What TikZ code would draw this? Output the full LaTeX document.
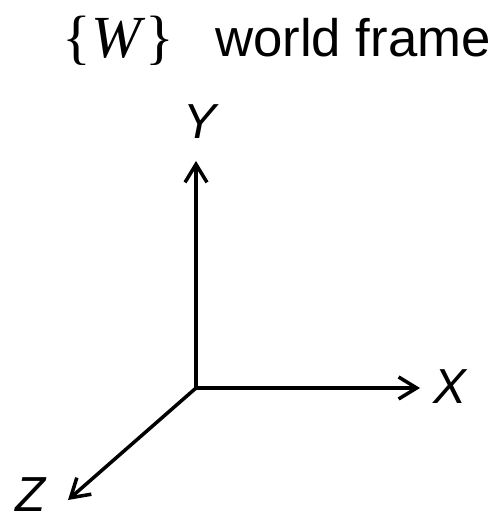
\documentclass[tikz,border=0pt]{standalone}
\usepackage{fontspec}
\setmainfont{Liberation Sans}
\newfontfamily\serifW{Liberation Serif}
\usepackage{tikz}
\usetikzlibrary{arrows.meta, positioning}

\begin{document}
\begin{tikzpicture}[>={Straight Barb[length=0.36cm, width=0.44cm]},
    axis/.style={line width=2pt, ->},
    axislabel/.style={inner sep=0pt, font=\fontsize{28}{30}\selectfont\itshape}]

    % khung hình
    \useasboundingbox (0,0) rectangle (10,10.4);

    % =================================================================
    % TIÊU ĐỀ
    % =================================================================
    \node[inner sep=0pt, anchor=base west, font=\fontsize{34}{36}\serifW]
        (frameW) at (1.24,9.24) {\{\textit{W}\}};
    \node[inner sep=0pt, anchor=base west, font=\fontsize{30}{32}\selectfont]
        (frametext) at (4.3,9.26) {world frame};

    % =================================================================
    % HỆ TRỤC TỌA ĐỘ
    % =================================================================
    % Gốc và đầu mút các trục
    \coordinate (O) at (3.92,2.64);
    \coordinate (Xend) at (8.4,2.64);
    \coordinate (Yend) at (3.92,7.18);
    \coordinate (Zend) at (1.36,0.4);

    % Vẽ các trục
    \draw[axis] (O) -- (Yend);
    \draw[axis] (O) -- (Xend);
    \draw[axis] (O) -- (Zend);

    % Nhãn các trục
    \node[axislabel] (labX) at (9.0,2.66) {X};
    \node[axislabel] (labY) at (4.0,7.96) {Y};
    \node[axislabel] (labZ) at (0.62,0.5) {Z};

\end{tikzpicture}
\end{document}
